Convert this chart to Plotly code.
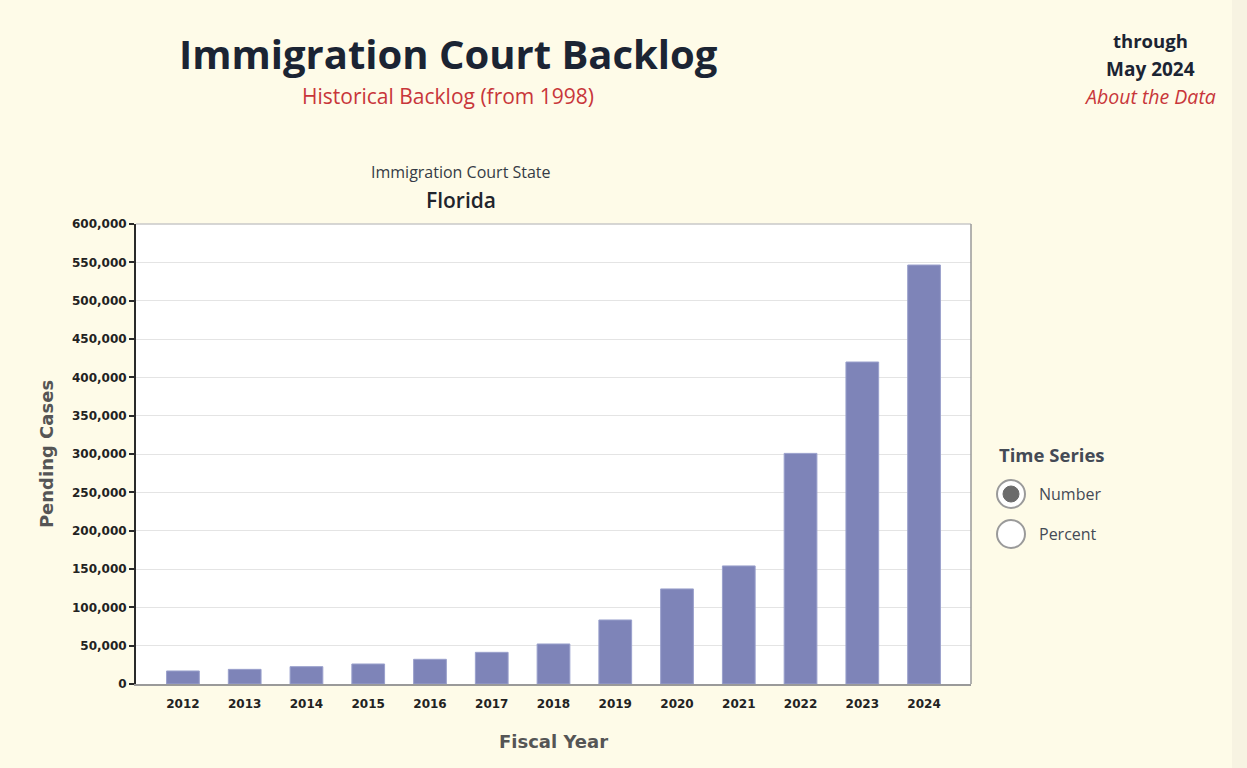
import plotly.graph_objects as go

years = ["2012", "2013", "2014", "2015", "2016", "2017", "2018",
         "2019", "2020", "2021", "2022", "2023", "2024"]
pending = [17000, 19100, 22600, 26100, 32200, 41300, 52200,
           83500, 124000, 154000, 300800, 420000, 546500]
y_ticks = list(range(0, 600001, 50000))
y_tick_labels = [f"{v:,}" for v in y_ticks]

BG = "#fefbe8"
BAR = "#7e84b8"
AXFONT = "DejaVu Sans"

# plot area in pixels: x 136..971, y 224..684
L, R, T, B = 136, 971, 224, 684
W, H = 1247, 768
def px(x):
    return (x - L) / (R - L)
def py(y):
    return (B - y) / (B - T)

fig = go.Figure()
fig.add_trace(go.Bar(
    x=years, y=pending, marker=dict(color=BAR, line=dict(color="#9aa0cc", width=1)),
    width=0.53, hoverinfo="x+y", showlegend=False,
))

annotations = [
    dict(text="<b>Immigration Court Backlog</b>", x=px(448), y=py(54),
         font=dict(size=40, color="#1b2433", family="Open Sans")),
    dict(text="Historical Backlog (from 1998)", x=px(448), y=py(96),
         font=dict(size=21, color="#c8363a", family="Open Sans")),
    dict(text="<b>through</b>", x=px(1150), y=py(41),
         font=dict(size=18.5, color="#1b2433", family="Open Sans")),
    dict(text="<b>May 2024</b>", x=px(1150), y=py(69),
         font=dict(size=19, color="#1b2433", family="Open Sans")),
    dict(text="<i>About the Data</i>", x=px(1150), y=py(97),
         font=dict(size=19.5, color="#c8363a", family="Open Sans")),
    dict(text="Immigration Court State", x=px(461), y=py(172),
         font=dict(size=16, color="#353b45", family="Open Sans")),
    dict(text="Florida", x=px(461), y=py(200),
         font=dict(size=21, color="#1f242c", family="Open Sans", weight=600)),
    dict(text="<b>Time Series</b>", x=px(997), y=py(454), xanchor="left",
         font=dict(size=18.5, color="#444a55", family="Open Sans")),
    dict(text="Number", x=px(1037), y=py(494), xanchor="left",
         font=dict(size=16, color="#444a55", family="Open Sans")),
    dict(text="Percent", x=px(1037), y=py(534), xanchor="left",
         font=dict(size=16, color="#444a55", family="Open Sans")),
]
for a in annotations:
    a.setdefault("xanchor", "center")
    a.update(xref="paper", yref="paper", yanchor="middle", showarrow=False)

shapes = [
    # page edge strip
    dict(type="rect", xref="paper", yref="paper", x0=px(1232), x1=px(1260),
         y0=py(-10), y1=py(780), fillcolor="#f7f3e2", line=dict(width=0), layer="below"),
    # plot frame: top, right
    dict(type="line", xref="paper", yref="paper", x0=0, x1=1, y0=1, y1=1,
         line=dict(color="#c8c8c8", width=1.5)),
    dict(type="line", xref="paper", yref="paper", x0=1, x1=1, y0=0, y1=1,
         line=dict(color="#9a9a9a", width=1.5)),
    # radio buttons
    dict(type="circle", xref="paper", yref="paper", x0=px(997), x1=px(1025),
         y0=py(508), y1=py(480), line=dict(color="#9a9a9a", width=2), fillcolor="white"),
    dict(type="circle", xref="paper", yref="paper", x0=px(1003), x1=px(1019),
         y0=py(502), y1=py(486), line=dict(color="#6b6b6b", width=1), fillcolor="#6b6b6b"),
    dict(type="circle", xref="paper", yref="paper", x0=px(997), x1=px(1025),
         y0=py(548), y1=py(520), line=dict(color="#9a9a9a", width=2), fillcolor="white"),
]

fig.update_layout(
    width=W, height=H,
    paper_bgcolor=BG, plot_bgcolor="white",
    margin=dict(l=L, r=W - R, t=T, b=H - B, pad=0),
    annotations=annotations, shapes=shapes,
    xaxis=dict(
        type="category", range=[-0.76, 12.76],
        tickfont=dict(family=AXFONT, size=12, color="#222222", weight="bold"),
        showgrid=False, showline=True, linecolor="#9a9a9a", linewidth=1.5,
        ticks="", ticklabelstandoff=8,
        title=dict(text="<b>Fiscal Year</b>", standoff=25,
                   font=dict(family=AXFONT, size=18, color="#555555")),
    ),
    yaxis=dict(
        range=[0, 600000], tickvals=y_ticks, ticktext=y_tick_labels,
        tickfont=dict(family=AXFONT, size=12, color="#222222", weight="bold"),
        showgrid=True, gridcolor="#e4e4e4", gridwidth=1,
        showline=True, linecolor="#2a2a2a", linewidth=2,
        ticks="outside", ticklen=5, tickcolor="#2a2a2a", tickwidth=1.5,
        zeroline=False,
        title=dict(text="<b>Pending Cases</b>", standoff=14,
                   font=dict(family=AXFONT, size=18, color="#555555")),
    ),
)

fig.write_html(
    "out.html",
    config={"displayModeBar": False},
    post_script=("document.body.style.margin='0';"
                 "document.body.style.background='" + BG + "';"
                 "document.documentElement.style.overflow='hidden';"),
)
